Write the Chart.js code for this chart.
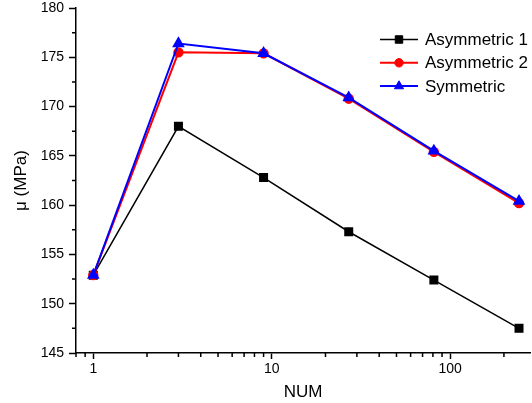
<!DOCTYPE html>
<html>
<head>
<meta charset="utf-8">
<script src="https://cdn.jsdelivr.net/npm/chart.js@4.4.0/dist/chart.umd.min.js"></script>
<style>
  html, body { margin: 0; padding: 0; background: #fff; }
  #wrap { width: 532px; height: 403px; }
</style>
</head>
<body>
<div id="wrap"><canvas id="chart" width="532" height="403"></canvas></div>
<script>
// data
const num = [1, 3, 9, 27, 81, 243];
const asym1 = [152.9, 168.0, 162.8, 157.3, 152.4, 147.5];
const asym2 = [152.9, 175.5, 175.4, 170.8, 165.4, 160.2];
const symm = [152.9, 176.4, 175.4, 170.9, 165.5, 160.4];

const xMajor = [1, 10, 100];
const xMinor = [0.8, 0.9, 2, 3, 4, 5, 6, 7, 8, 9, 20, 30, 40, 50, 60, 70, 80, 90, 200];
const yMinor = [147.5, 152.5, 157.5, 162.5, 167.5, 172.5, 177.5];

const font = 'Liberation Sans, Arial, sans-serif';

function pts(ys) {
  return num.map((x, i) => ({x: x, y: ys[i]}));
}

// short minor ticks on both axes
const minorTicks = {
  id: 'minorTicks',
  afterDraw(chart) {
    const ctx = chart.ctx;
    const xs = chart.scales.x, ys = chart.scales.y;
    ctx.save();
    ctx.strokeStyle = '#000';
    ctx.lineWidth = 1.5;
    ctx.beginPath();
    xMinor.forEach(v => {
      const px = xs.getPixelForValue(v);
      ctx.moveTo(px, xs.top);
      ctx.lineTo(px, xs.top + 4);
    });
    yMinor.forEach(v => {
      const py = ys.getPixelForValue(v);
      ctx.moveTo(ys.right, py);
      ctx.lineTo(ys.right - 4, py);
    });
    ctx.stroke();
    ctx.restore();
  }
};

// legend with line + marker inside the plot, top right
const lineLegend = {
  id: 'lineLegend',
  afterDraw(chart) {
    const ctx = chart.ctx;
    const x0 = 380, x1 = 418, tx = 425;
    let y = 39.5;
    ctx.save();
    chart.data.datasets.forEach(ds => {
      ctx.strokeStyle = ds.borderColor;
      ctx.lineWidth = ds.borderWidth;
      ctx.beginPath();
      ctx.moveTo(x0, y);
      ctx.lineTo(x1, y);
      ctx.stroke();
      ctx.fillStyle = ds.pointBackgroundColor;
      ctx.strokeStyle = ds.pointBorderColor;
      ctx.lineWidth = 1;
      Chart.helpers.drawPoint(ctx, {pointStyle: ds.pointStyle, radius: ds.pointRadius, borderWidth: 1, rotation: 0}, (x0 + x1) / 2, y);
      ctx.fillStyle = '#000';
      ctx.font = '17px ' + font;
      ctx.textBaseline = 'middle';
      ctx.fillText(ds.label, tx, y + 1);
      y += 23.3;
    });
    ctx.restore();
  }
};

new Chart(document.getElementById('chart'), {
  type: 'line',
  data: {
    datasets: [
      {
        label: 'Asymmetric 1', data: pts(asym1),
        borderColor: '#000', borderWidth: 1.5,
        pointStyle: 'rect', pointRadius: 5.3,
        pointBackgroundColor: '#000', pointBorderColor: '#000',
        order: 3
      },
      {
        label: 'Asymmetric 2', data: pts(asym2),
        borderColor: '#ff0000', borderWidth: 2,
        pointStyle: 'circle', pointRadius: 4.2,
        pointBackgroundColor: '#ff0000', pointBorderColor: '#ff0000',
        order: 2
      },
      {
        label: 'Symmetric', data: pts(symm),
        borderColor: '#0000ff', borderWidth: 2,
        pointStyle: 'triangle', pointRadius: 5.3,
        pointBackgroundColor: '#0000ff', pointBorderColor: '#0000ff',
        order: 1
      }
    ]
  },
  options: {
    responsive: false,
    animation: false,
    layout: {autoPadding: false, padding: {left: 0, top: 8, right: 2, bottom: 0}},
    plugins: {legend: {display: false}, tooltip: {enabled: false}},
    elements: {line: {tension: 0}, point: {borderWidth: 1}},
    scales: {
      x: {
        type: 'logarithmic',
        min: 0.8, max: 280,
        afterBuildTicks: s => { s.ticks = xMajor.map(v => ({value: v})); },
        afterFit: s => { s.height = 50; s.paddingLeft = 0; s.paddingRight = 0; },
        grid: {drawOnChartArea: false, drawTicks: true, tickLength: 6, tickColor: '#000', tickWidth: 1.5},
        border: {display: true, color: '#000', width: 1.5},
        ticks: {
          color: '#000', font: {family: font, size: 14}, padding: 2,
          maxRotation: 0, autoSkip: false,
          callback: v => String(v)
        },
        title: {display: true, text: 'NUM', color: '#000', font: {family: font, size: 17}, padding: {top: 0, bottom: 0}}
      },
      y: {
        min: 145, max: 180,
        afterFit: s => { s.width = 76; s.paddingTop = 0; s.paddingBottom = 0; },
        grid: {drawOnChartArea: false, drawTicks: true, tickLength: 7, tickColor: '#000', tickWidth: 1.5},
        border: {display: true, color: '#000', width: 1.5},
        ticks: {stepSize: 5, color: '#000', font: {family: font, size: 14}, padding: 5},
        title: {display: true, text: 'μ (MPa)', color: '#000', font: {family: font, size: 17}, padding: {top: 11, bottom: 0}}
      }
    }
  },
  plugins: [minorTicks, lineLegend]
});
</script>
</body>
</html>
